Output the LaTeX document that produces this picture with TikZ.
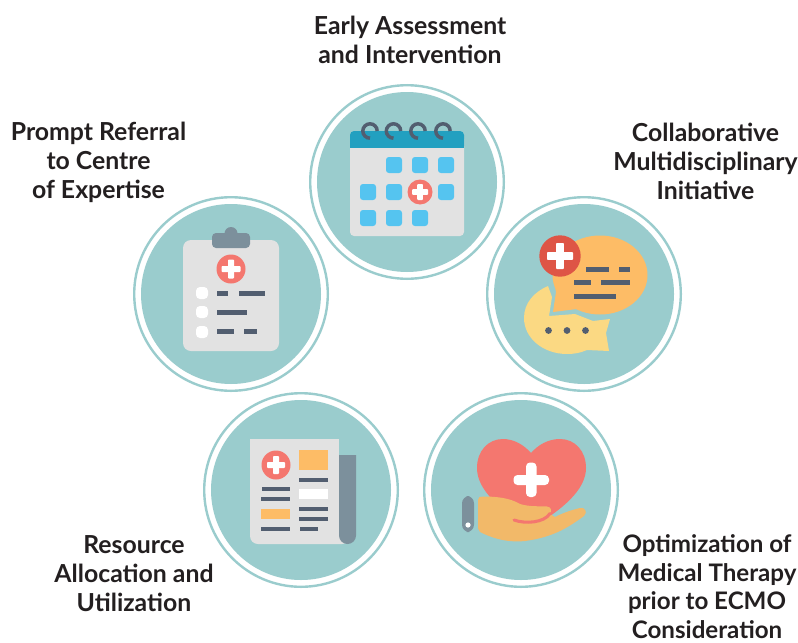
\documentclass[tikz,border=0pt]{standalone}
\usepackage{fontspec}
\setmainfont{Lato}
\definecolor{disc}{HTML}{9ACCCD}
\definecolor{bar}{HTML}{525E70}
\definecolor{paper}{HTML}{E2E2E2}
\definecolor{sky}{HTML}{55C4F0}
\definecolor{salmon}{HTML}{F4776F}
\definecolor{orng}{HTML}{FDBC66}
\definecolor{yell}{HTML}{FBD983}
\definecolor{redd}{HTML}{DE5546}
\definecolor{slate}{HTML}{7C909C}
\definecolor{handc}{HTML}{F2B969}
\definecolor{teal2}{HTML}{22A0C0}
\definecolor{ink}{HTML}{231F20}
\tikzset{
  lbl/.style={font=\fontsize{18.6}{21.75}\selectfont\bfseries, text=ink, align=center, inner sep=0pt, anchor=center},
  lblsmall/.style={lbl, font=\fontsize{18.1}{21.5}\selectfont\bfseries},
  discfill/.style={fill=disc, draw=none},
  ringline/.style={draw=disc, line width=1.8pt, fill=none},
}
\newcommand{\medcross}[4]{% x y halfwidth halfarm
  \fill[white, rounded corners=0.6pt] (#1-#4,#2-#3) rectangle (#1+#4,#2+#3);
  \fill[white, rounded corners=0.6pt] (#1-#3,#2-#4) rectangle (#1+#3,#2+#4);
}
\newcommand{\dbar}[3]{\fill[bar] (#1,#3-2.4) rectangle (#2,#3+2.4);}
\begin{document}
\begin{tikzpicture}[x=0.75pt,y=-0.75pt]
\useasboundingbox (0,0) rectangle (798,642);
\fill[white] (0,0) rectangle (798,642);
% discs
\foreach \cx/\cy/\nm in {407/182/top,584/294/right,231/294/left,301/490/bl,521/490/br}{
  \draw[ringline] (\cx,\cy) circle[radius=96.8];
  \fill[discfill] (\cx,\cy) circle[radius=90];
}
% ---- calendar
\fill[paper, rounded corners=3pt] (350,135) rectangle (464,236);
\fill[teal2, rounded corners=3pt] (350,131) rectangle (464,150);
\fill[teal2] (350,142) rectangle (464,147.5);
\fill[paper] (350,147.5) rectangle (464,152);
\foreach \x/\y in {394/165,420/165,446/165,368/192,394/192,446/192,368/218,394/218,420/218}{
  \fill[sky, rounded corners=2.2pt] (\x-8,\y-8) rectangle (\x+8,\y+8);
}
\fill[salmon] (420,192) circle[radius=12.5];
\medcross{420}{192}{8}{2.8}
\foreach \x in {370,393.5,418,443}{
  \draw[bar, line width=2.6pt] (\x+7.2,131) arc[start angle=0,end angle=-270,radius=7.2];
}
% ---- speech bubbles
\fill[orng] (600,275) ellipse[x radius=47.5,y radius=39.5];
\fill[orng] (552,270) -- (556,292) -- (553,312) -- (577,309) -- (600,300) -- (600,260) -- cycle;
\fill[yell] (548,286) -- (552,297) -- (549,316) -- (575,314) -- (593,321) -- (610,319) -- (606,333) -- (609,351) -- (587,350)
  .. controls (580,353) and (574,354) .. (567,354)
  .. controls (543,354) and (524,338) .. (524,318)
  .. controls (524,303) and (534,292) .. (548,286) -- cycle;
\fill[redd] (560,256) circle[radius=20.7];
\medcross{560}{256}{13}{3.9}
\foreach \x in {548.5,567,585.5}{\fill[bar] (\x,330.5) circle[radius=3.4];}
\dbar{586}{609}{269.5}\dbar{619}{630}{269.5}
\dbar{574}{591}{282.5}\dbar{601}{630}{282.5}
\dbar{574}{616}{296.5}
% ---- clipboard
\fill[paper, rounded corners=6pt] (183,240) rectangle (279,351);
\fill[slate, rounded corners=3pt] (212,233) rectangle (250,248);
\fill[slate] (231,233.5) circle[radius=6.5];
\fill[salmon] (231,269) circle[radius=14.5];
\medcross{231}{269}{9.5}{3}
\foreach \y in {293,312,332}{\fill[white, rounded corners=3pt] (196,\y-6) rectangle (208,\y+6);}
\dbar{217}{228}{293.5}\dbar{239}{265}{293.5}
\dbar{217}{247}{312.5}
\dbar{217}{234}{331.5}\dbar{244}{257}{331.5}
% ---- newspaper
\fill[paper, rounded corners=6pt] (250,460) -- (250,544) -- (350,544) -- (350,500) -- cycle;
\fill[paper] (250,439) rectangle (339,500);
\fill[slate] (339,455) -- (356,455) -- (356,535.5) arc[start angle=0,end angle=180,radius=8.5] -- cycle;
\fill[salmon] (276,465) circle[radius=14.5];
\medcross{276}{465}{9}{3}
\fill[orng] (299,450) rectangle (328,470);
\dbar{299}{328}{480}
\fill[white] (299,489) rectangle (328,499);
\dbar{299}{328}{509}\dbar{299}{328}{519}\dbar{300}{318}{529}
\dbar{262}{290}{489}\dbar{261}{290}{499}
\fill[orng] (261,509) rectangle (290,519);
\dbar{261}{290}{529}
% ---- heart and hand
\fill[salmon] (531,453)
  .. controls (538,445) and (548,439) .. (560,439)
  .. controls (575,439) and (586,451) .. (586,468)
  .. controls (586,490) and (562,510) .. (531,528)
  .. controls (500,510) and (477,490) .. (477,468)
  .. controls (477,451) and (488,439) .. (503,439)
  .. controls (514,439) and (524,445) .. (531,453) -- cycle;
\fill[white, rounded corners=3pt] (526,462.5) rectangle (536.5,497);
\fill[white, rounded corners=3pt] (513.5,475) rectangle (549,485);
\fill[handc] (478,500)
  .. controls (478,497) and (480,496.5) .. (483,496.5)
  .. controls (497,496.5) and (510,498) .. (520,504)
  .. controls (530,507) and (540,506) .. (547,506.5)
  .. controls (551,507) and (552,510) .. (550,514)
  -- (555,517)
  .. controls (565,512) and (572,510) .. (580,508)
  .. controls (585,507) and (588,512) .. (584,516)
  .. controls (570,526) and (555,537) .. (525,541)
  .. controls (505,543) and (490,537) .. (480,532)
  .. controls (478,530) and (478,528) .. (478,525) -- cycle;
\draw[salmon, line width=2.3pt, line cap=round] (514,520) .. controls (525,524) and (544,523) .. (550,513.5);
\fill[slate, rounded corners=5.5pt] (462,496) rectangle (474,532);
\fill[white] (468,525) circle[radius=2.6];
% ---- labels
\node[lbl] (t1) at (410,39.5) {Early Assessment\\and Intervention};
\node[lbl] (t2) at (705.5,161.5) {Collaborative\\Multidisciplinary\\Initiative};
\node[lbl] (t3) at (98.5,162) {Prompt Referral\\to Centre\\of Expertise};
\node[lbl] (t4) at (134,574) {Resource\\Allocation and\\Utilization};
\node[lblsmall] (t5) at (707,586.5) {Optimization of\\Medical Therapy\\prior to ECMO\\Consideration};
\end{tikzpicture}
\end{document}
